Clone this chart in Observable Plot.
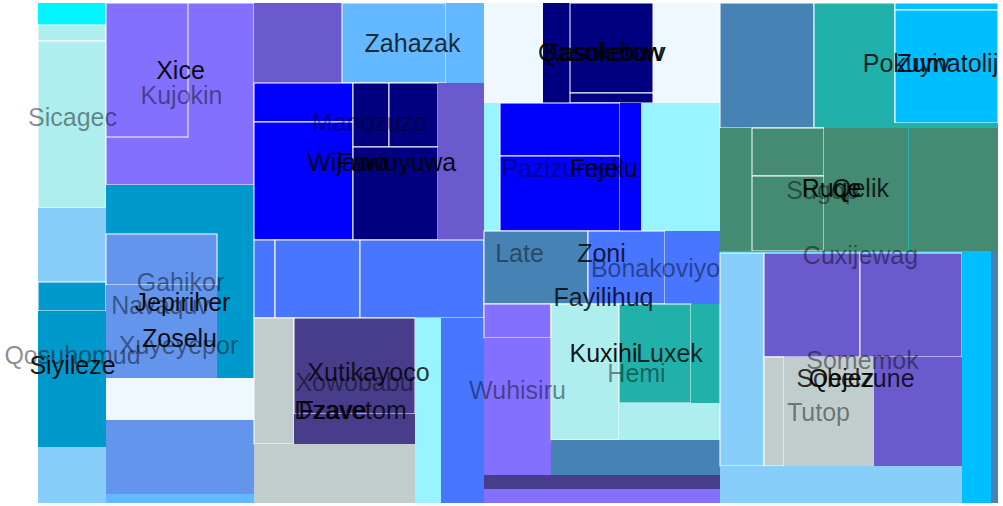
<!DOCTYPE html>
<html>
<head>
<meta charset="utf-8">
<script src="https://cdn.jsdelivr.net/npm/d3@7"></script>
<script src="https://cdn.jsdelivr.net/npm/@observablehq/plot@0.6"></script>
<style>
  html, body { margin: 0; padding: 0; background: #fff; }
  #chart svg { display: block; }
</style>
</head>
<body>
<div id="chart"></div>
<script>
// Rectangles (data space 0–960 × 0–500), drawn in order
const rectX1 = [0,0,0,0,0,0,0, 68,68,68,179,68,68,68,68,68, 216,304,408,216,216,315,351,315,400,216,237,322,216,256,256,216,377,403, 446,505,532,532,615,446,462,462,582,603,446,550,627,446,446,513,581,653,581,513,446,446, 682,776,857,857,857,682,714,714,786,786,871,682,682,726,822,836,726,746,682,924,953];
const rectX2 = [68,68,68,68,68,68,68, 216,150,216,216,179,179,216,216,216, 304,408,446,315,315,351,400,400,446,237,322,446,256,377,377,377,403,446, 505,532,615,615,682,462,582,582,603,682,550,627,682,513,513,581,653,682,682,682,682,682, 776,857,960,960,960,714,786,786,960,870,960,924,726,822,924,924,746,836,924,953,960];
const rectY1 = [0,22,38,205,279,308,444, 0,0,182,231,231,282,375,417,491, 0,0,0,80,119,80,80,144,80,237,237,237,315,315,411,441,315,315, 0,0,0,90,0,100,100,153,100,100,228,228,228,301,335,301,301,301,400,437,472,486, 0,0,0,0,7,125,125,173,120,125,125,248,250,250,250,354,354,354,463,248,248];
const rectY2 = [22,38,205,279,308,444,500, 182,134,231,375,282,375,417,491,500, 80,80,80,119,237,144,144,237,237,315,315,315,441,411,441,500,500,500, 100,100,90,100,100,228,153,228,228,228,301,301,301,335,472,437,400,400,437,472,486,500, 125,125,125,7,120,248,173,248,248,248,248,251,463,354,354,463,463,463,500,500,500];
const rectFill = [
  "#00F5FF","#AFEEEE","#AFEEEE","#87CEFA","#0099CC","#0099CC","#87CEFA",
  "#8470FF","#8470FF","#0099CC","#0099CC","#6495ED","#6495ED","#F0F8FF","#6495ED","#63B8FF",
  "#6A5ACD","#63B8FF","#63B8FF","#0000FF","#0000FF","#000080","#000080","#000080","#6A5ACD","#4876FF","#4876FF","#4876FF","#C1CDCD","#483D8B","#483D8B","#C1CDCD","#98F5FF","#4876FF",
  "#F0F8FF","#000080","#000080","#000080","#F0F8FF","#98F5FF","#0000FF","#0000FF","#0000FF","#98F5FF","#4682B4","#4876FF","#4876FF","#8470FF","#8470FF","#AFEEEE","#20B2AA","#20B2AA","#AFEEEE","#4682B4","#483D8B","#8470FF",
  "#4682B4","#20B2AA","#20B2AA","#00BFFF","#00BFFF","#458B74","#458B74","#458B74","#20B2AA","#458B74","#458B74","#00BFFF","#87CEFA","#6A5ACD","#6A5ACD","#6A5ACD","#C1CDCD","#C1CDCD","#87CEFA","#00BFFF","#4682B4"
];
const rectEdge = [
  "none","white","white","none","white","none","none",
  "white","white","none","none","white","none","none","none","none",
  "none","white","none","white","white","white","white","white","none","white","white","white","white","white","none","none","none","none",
  "none","none","white","white","none","none","white","white","none","none","white","white","none","white","none","white","white","none","none","none","none","none",
  "white","white","none","white","white","none","white","white","none","none","none","none","white","white","white","none","white","none","none","none","none"
];

// Labels
const labelName = ["Sicagec","Kujokin","Gahikor","Navaquv","Xuyeyepor","Qosuhomud","Manozuzo","Xowobabu","Pazizumek","Late","Bonakoviyo","Hemi","Wuhisiru","Sugop","Cuxijewag","Somemok","Tutop",
  "Zahazak","Xutikayoco","Dzavetom","Zoni","Fayilihuq","Luxek","Pokuyiv","Qelik","Sobelzune",
  "Xice","Jepiriher","Zoselu","Siyileze","Wijawo","Fawuyuwa","Fzave","Qasoketow","Kasolebuiv","Fejelu","Kuxihi","Ruqe","Zumatolij","Qejez"];
const labelX = [34,143,142,122,140,34,331,316,524,481,617,598,479,784,822,824,780,
  374,330,312,563,565,631,868,822,817,
  142,144,141,34,309,358,294,562,566,565,565,793,909,803];
const labelY = [114,92,279,302,342,352,119,379,165,250,265,370,387,187,252,357,409,
  40,369,407,250,294,350,60,185,375,
  67,299,335,362,159,159,407,49,49,165,350,185,60,375];
const labelTone = [0.45,0.45,0.45,0.45,0.45,0.45,0.45,0.45,0.45,0.45,0.45,0.45,0.45,0.45,0.45,0.45,0.45,
  0.8,0.8,0.8,0.8,0.8,0.8,0.8,0.8,0.8,
  0.92,0.92,0.92,0.92,0.92,0.92,0.92,0.92,0.92,0.92,0.92,0.92,0.92,0.92];

const rects = rectX1.map((_, i) => ({x1: rectX1[i], x2: rectX2[i], y1: rectY1[i], y2: rectY2[i], fill: rectFill[i], edge: rectEdge[i]}));
const labels = labelName.map((n, i) => ({name: n, x: labelX[i], y: labelY[i], tone: labelTone[i]}));

const chart = Plot.plot({
  width: 1003,
  height: 506,
  margin: 0,
  style: {fontFamily: "'Liberation Sans', Arial, sans-serif", background: "white"},
  x: {domain: [0, 960], range: [38, 998], axis: null},
  y: {domain: [0, 500], range: [3, 503], axis: null},
  color: {type: "identity"},
  marks: [
    Plot.rect(rects, {x1: "x1", x2: "x2", y1: "y1", y2: "y2", fill: "fill", stroke: "edge", strokeWidth: 1}),
    Plot.text(labels, {x: "x", y: "y", text: "name", fill: "black", fillOpacity: "tone", fontSize: 25, textAnchor: "middle"})
  ]
});
document.getElementById("chart").appendChild(chart);
</script>
</body>
</html>
